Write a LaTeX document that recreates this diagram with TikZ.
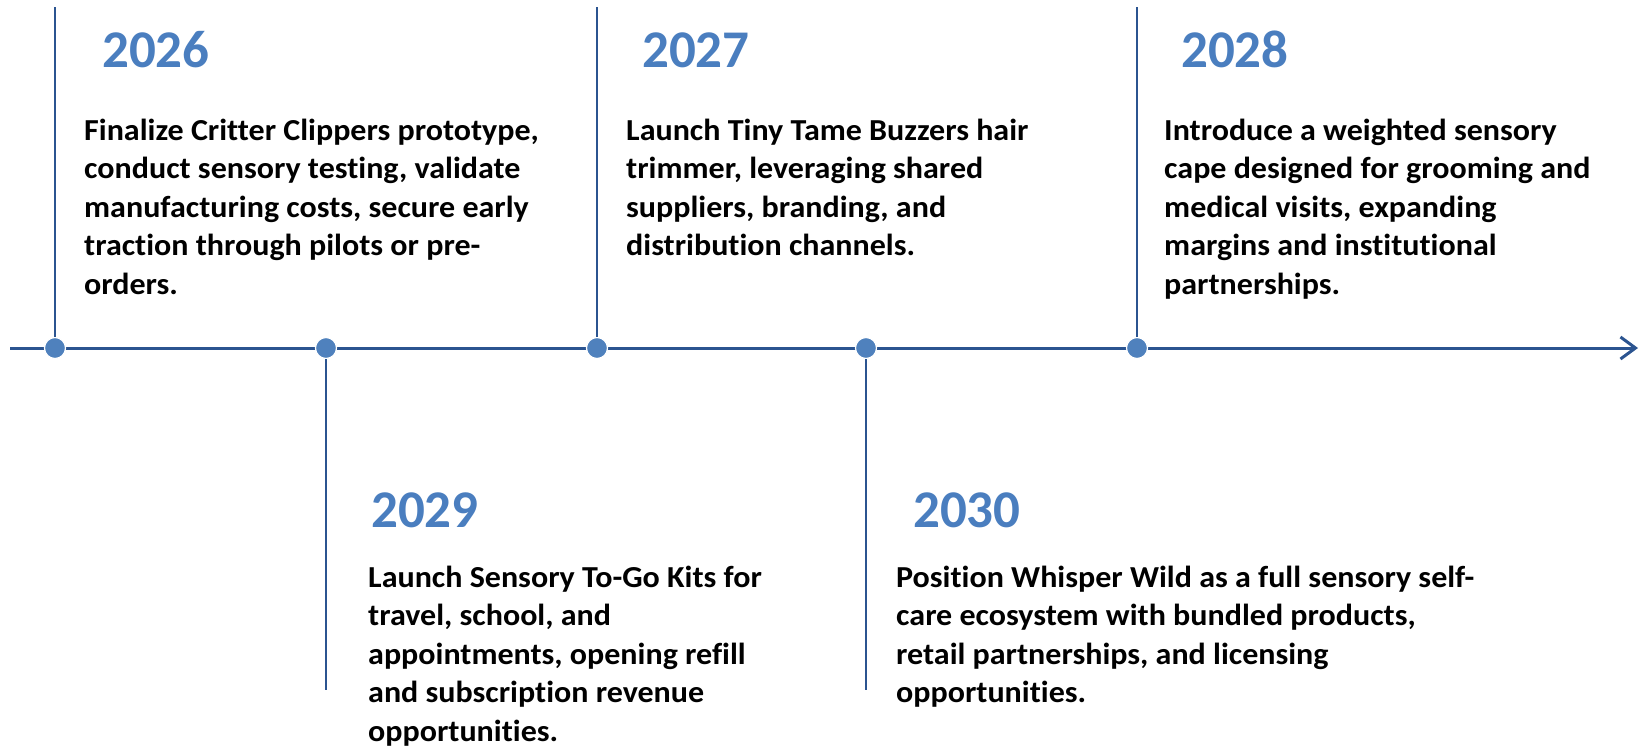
\documentclass[tikz,border=0pt]{standalone}
\usepackage{fontspec}
\setmainfont{Carlito}[Ligatures=CommonOff]
\newfontfamily\bodyfont{Carlito}[Ligatures=CommonOff, FakeStretch=1.05]
\usetikzlibrary{arrows.meta}
\definecolor{axisblue}{HTML}{2B5490}
\definecolor{dotblue}{HTML}{4F81BD}
\definecolor{yearblue}{HTML}{4A7EBF}
\tikzset{
  axisline/.style={draw=axisblue, line width=3pt},
  stem/.style={draw=axisblue, line width=2pt},
  dot/.style={circle, fill=dotblue, draw=white, line width=1.2pt, minimum size=21pt, inner sep=0pt},
  year/.style={anchor=base west, inner sep=0pt, text=yearblue, font=\bfseries\fontsize{53}{60}\selectfont},
  body/.style={anchor=base west, inner sep=0pt, text=black}
}
\newcommand{\bodytext}[1]{\parbox[t]{620pt}{\raggedright\bodyfont\bfseries\fontsize{30.5}{38.5}\selectfont #1}}
\begin{document}
\begin{tikzpicture}[x=1pt,y=-1pt]
\useasboundingbox (0,0) rectangle (1640,745);
% axis
\coordinate (start) at (10,348);
\coordinate (end) at (1638,348);
\draw[axisline, -{Straight Barb[length=15pt,width=22pt,line width=3pt]}] (start) -- (end);
% stems
\coordinate (t1) at (55,7);
\coordinate (t3) at (597,7);
\coordinate (t5) at (1137,7);
\coordinate (b2) at (326,690);
\coordinate (b4) at (866,690);
\node[dot] (d1) at (55,348) {};
\node[dot] (d2) at (326,348) {};
\node[dot] (d3) at (597,348) {};
\node[dot] (d4) at (866,348) {};
\node[dot] (d5) at (1137,348) {};
\draw[stem] (d1.north) -- (t1);
\draw[stem] (d3.north) -- (t3);
\draw[stem] (d5.north) -- (t5);
\draw[stem] (d2.south) -- (b2);
\draw[stem] (d4.south) -- (b4);
% years
\node[year] (y2026) at (102,67) {2026};
\node[year] (y2027) at (642,67) {2027};
\node[year] (y2028) at (1181,67) {2028};
\node[year] (y2029) at (371,527) {2029};
\node[year] (y2030) at (913,527) {2030};
% bodies
\node[body] (t2026) at (84,140) {\bodytext{Finalize Critter Clippers prototype,\\conduct sensory testing, validate\\manufacturing costs, secure early\\traction through pilots or pre-\\orders.}};
\node[body] (t2027) at (626,140) {\bodytext{Launch Tiny Tame Buzzers hair\\trimmer, leveraging shared\\suppliers, branding, and\\distribution channels.}};
\node[body] (t2028) at (1164,140) {\bodytext{Introduce a weighted sensory\\cape designed for grooming and\\medical visits, expanding\\margins and institutional\\partnerships.}};
\node[body] (t2029) at (368,587) {\bodytext{Launch Sensory To-Go Kits for\\travel, school, and\\appointments, opening refill\\and subscription revenue\\opportunities.}};
\node[body] (t2030) at (896,587) {\bodytext{Position Whisper Wild as a full sensory self-\\care ecosystem with bundled products,\\retail partnerships, and licensing\\opportunities.}};
\end{tikzpicture}
\end{document}
